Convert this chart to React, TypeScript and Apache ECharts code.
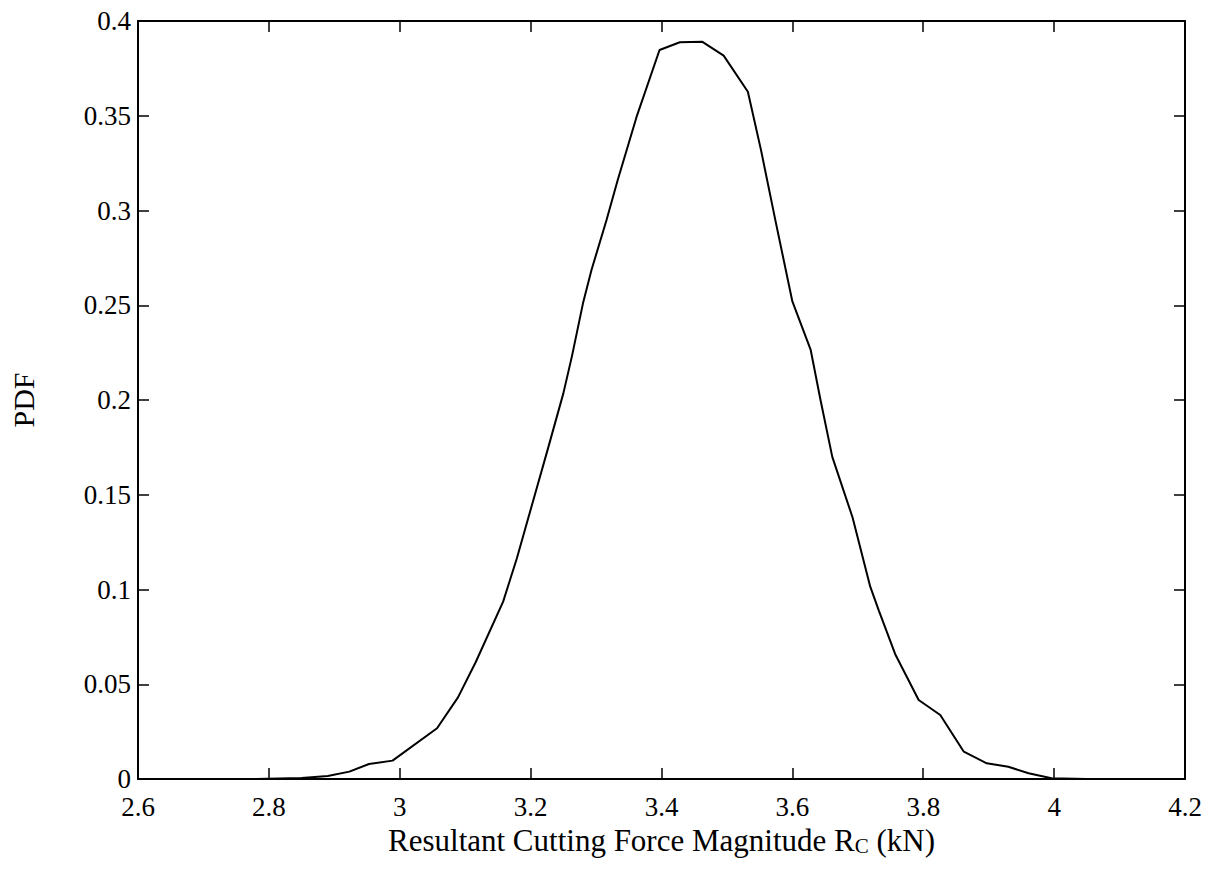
import React, { useEffect, useRef } from "react";
import * as echarts from "echarts";

const forceKN = [
  2.78, 2.85, 2.89, 2.923, 2.953, 2.989, 3.057, 3.089, 3.116, 3.158, 3.179, 3.204,
  3.227, 3.25, 3.263, 3.28, 3.293, 3.316, 3.333, 3.362, 3.397, 3.428, 3.462, 3.495,
  3.532, 3.552, 3.575, 3.6, 3.628, 3.643, 3.661, 3.692, 3.719, 3.732, 3.757, 3.793,
  3.826, 3.862, 3.897, 3.93, 3.961, 3.996, 4.05, 4.1,
];
const pdfValues = [
  0, 0.0005, 0.0016, 0.0039, 0.0079, 0.0097, 0.0268, 0.0431, 0.0616, 0.0936, 0.1165, 0.147,
  0.175, 0.2035, 0.2229, 0.251, 0.2686, 0.295, 0.316, 0.3495, 0.3847, 0.3888, 0.3891, 0.3817,
  0.3627, 0.332, 0.2932, 0.252, 0.2264, 0.2, 0.17, 0.138, 0.1015, 0.089, 0.066, 0.0417,
  0.0338, 0.0144, 0.0083, 0.0065, 0.003, 0.0004, 0, 0,
];

const FONT = "'Liberation Serif', 'Times New Roman', serif";

export default function App() {
  const ref = useRef<HTMLDivElement>(null);
  useEffect(() => {
    if (!ref.current) return;
    const chart = echarts.init(ref.current, null, { renderer: "svg" });
    const axisLine = { show: true, onZero: false, lineStyle: { color: "#000", width: 2 } };
    const tick = { show: true, inside: true, length: 11, lineStyle: { color: "#000", width: 1.5 } };
    const fmt = (v: number) => String(Math.round(v * 1000) / 1000);
    const labelStyle = { color: "#000", fontFamily: FONT, fontSize: 27, fontWeight: "normal", fontStyle: "normal" };
    chart.setOption({
      animation: false,
      backgroundColor: "#fff",
      textStyle: { fontFamily: FONT, color: "#000" },
      grid: { left: 133, right: 30, top: 21, bottom: 109, containLabel: false },
      xAxis: [
        {
          type: "value",
          min: 2.6,
          max: 4.2,
          interval: 0.2,
          position: "bottom",
          axisLine,
          axisTick: tick,
          splitLine: { show: false },
          axisLabel: { ...labelStyle, margin: 14, formatter: fmt },
          name: "Resultant Cutting Force Magnitude R{sub|C} (kN)",
          nameLocation: "middle",
          nameGap: 46,
          nameTextStyle: {
            color: "#000",
            fontFamily: FONT,
            fontSize: 31,
            rich: {
              sub: { fontFamily: FONT, fontSize: 21, color: "#000", verticalAlign: "bottom", padding: [10, 0, 0, 0] },
            },
          },
        },
        {
          type: "value",
          min: 2.6,
          max: 4.2,
          interval: 0.2,
          position: "top",
          axisLine,
          axisTick: tick,
          splitLine: { show: false },
          axisLabel: { show: false },
        },
      ],
      yAxis: [
        {
          type: "value",
          min: 0,
          max: 0.4,
          interval: 0.05,
          position: "left",
          axisLine,
          axisTick: tick,
          splitLine: { show: false },
          axisLabel: { ...labelStyle, margin: 7, formatter: fmt },
          name: "PDF",
          nameLocation: "middle",
          nameGap: 100,
          nameTextStyle: { color: "#000", fontFamily: FONT, fontSize: 30 },
        },
        {
          type: "value",
          min: 0,
          max: 0.4,
          interval: 0.05,
          position: "right",
          axisLine,
          axisTick: tick,
          splitLine: { show: false },
          axisLabel: { show: false },
        },
      ],
      series: [
        {
          type: "line",
          xAxisIndex: 0,
          yAxisIndex: 0,
          data: forceKN.map((x, i) => [x, pdfValues[i]]),
          showSymbol: false,
          symbol: "none",
          lineStyle: { color: "#000", width: 2 },
          z: 3,
        },
      ],
    });
    return () => chart.dispose();
  }, []);
  return (
    <div
      ref={ref}
      style={{ position: "fixed", left: 0, top: 0, width: 1215, height: 888, background: "#fff" }}
    />
  );
}
